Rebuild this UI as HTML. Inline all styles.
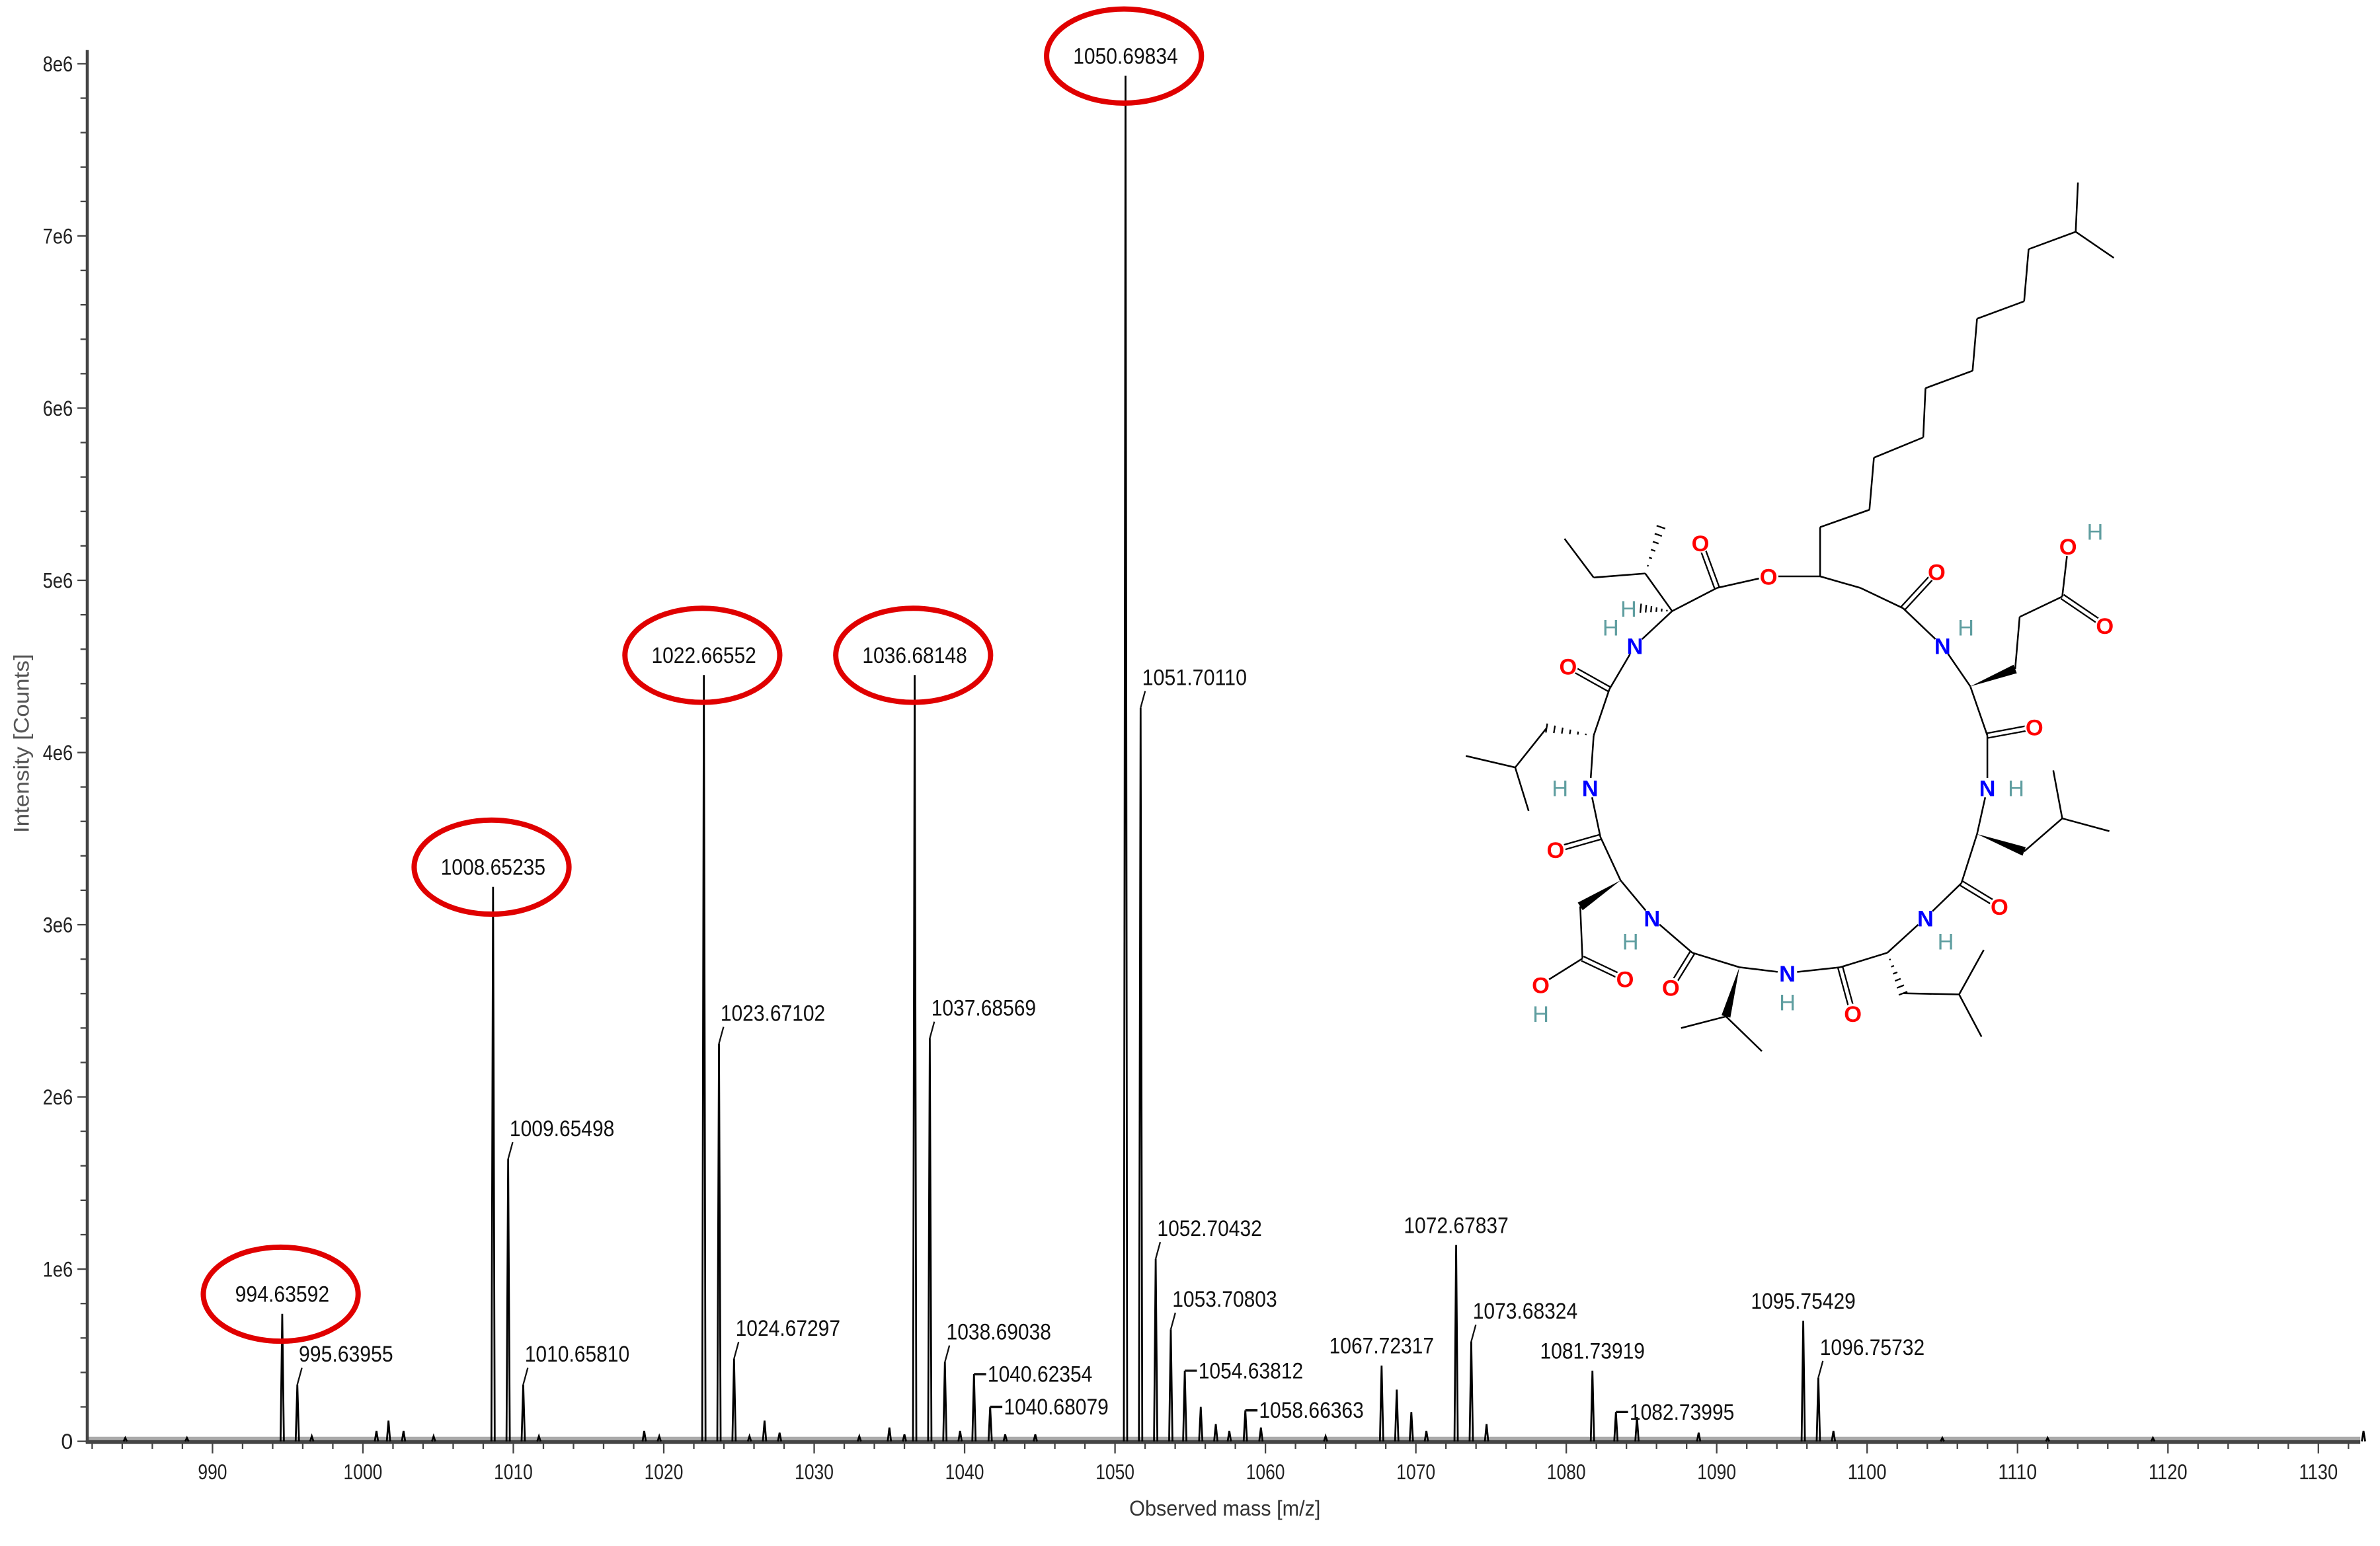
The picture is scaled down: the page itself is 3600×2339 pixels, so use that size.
<!DOCTYPE html>
<html><head><meta charset="utf-8"><style>
html,body{margin:0;padding:0;background:#fff;}
svg{display:block;}
text{font-family:"Liberation Sans Narrow","Liberation Sans",sans-serif;}
</style></head><body>
<svg id="chart" width="3600" height="2339" viewBox="0 0 1568 1019" preserveAspectRatio="none" xmlns="http://www.w3.org/2000/svg">
<g id="axes"></g>
<g id="peaks"></g>
<g id="labels"></g>
<g id="circles"></g>
<g id="mol"></g>
<text x="0" y="0" transform="translate(19,490) rotate(-90)" text-anchor="middle" font-size="14" fill="#555" textLength="118" lengthAdjust="spacingAndGlyphs">Intensity [Counts]</text>
<text x="807" y="999" text-anchor="middle" font-size="14" fill="#333" textLength="126" lengthAdjust="spacingAndGlyphs">Observed mass [m/z]</text>
</svg>
<script>
// ---- chart data ----
const peakMz = [984.2,988.3,994.636,995.640,996.6,1000.9,1001.7,1002.7,1004.7,1008.652,1009.655,1010.658,1011.7,1018.7,1019.7,1022.666,1023.671,1024.673,1025.7,1026.7,1027.7,1033.0,1035.0,1036.0,1036.681,1037.686,1038.690,1039.7,1040.624,1041.7,1042.7,1044.7,1050.698,1051.701,1052.704,1053.708,1054.638,1055.7,1056.7,1057.6,1058.664,1059.7,1064.0,1067.723,1068.73,1069.7,1070.7,1072.678,1073.683,1074.7,1081.739,1083.3,1084.7,1088.8,1095.754,1096.757,1097.76,1105.0,1112.0,1119.0,1133.0];
const peakInt = [0.02,0.02,0.74,0.33,0.03,0.06,0.12,0.06,0.03,3.22,1.64,0.33,0.03,0.06,0.03,4.45,2.31,0.48,0.03,0.12,0.05,0.03,0.08,0.04,4.45,2.34,0.46,0.06,0.39,0.2,0.04,0.04,7.93,4.26,1.06,0.65,0.41,0.2,0.1,0.06,0.18,0.08,0.03,0.44,0.30,0.17,0.06,1.14,0.58,0.1,0.41,0.17,0.14,0.05,0.70,0.37,0.06,0.02,0.02,0.02,0.06];
const labelMz = [994.636,995.640,1008.652,1009.655,1010.658,1022.666,1023.671,1024.673,1036.681,1037.686,1038.690,1040.624,1041.7,1050.698,1051.701,1052.704,1053.708,1054.638,1058.664,1067.723,1072.678,1073.683,1081.739,1083.3,1095.754,1096.757];
const labelText = ["994.63592","995.63955","1008.65235","1009.65498","1010.65810","1022.66552","1023.67102","1024.67297","1036.68148","1037.68569","1038.69038","1040.62354","1040.68079","1050.69834","1051.70110","1052.70432","1053.70803","1054.63812","1058.66363","1067.72317","1072.67837","1073.68324","1081.73919","1082.73995","1095.75429","1096.75732"];
const circledMz = [994.636,1008.652,1022.666,1036.681,1050.698];
const xTicks = [990,1000,1010,1020,1030,1040,1050,1060,1070,1080,1090,1100,1110,1120,1130];
const yTicks = [0,1,2,3,4,5,6,7,8];
const yTickLabels = ["0","1e6","2e6","3e6","4e6","5e6","6e6","7e6","8e6"];
// label layout style: 'c' centered above peak, 's' slanted leader, 'h' horizontal leader
const labelStyle = ['c','s','c','s','s','c','s','s','c','s','s','h','h','c','s','s','s','h','h','c','c','s','c','h','c','s'];

const NS="http://www.w3.org/2000/svg";
const X0=57.5, X1=1555, Y0=950;
function xs(m){return 140+(m-990)*9.91;}
function ys(v){return Y0-v*(950-42)/8;}
function el(tag,attrs,parent){const e=document.createElementNS(NS,tag);for(const k in attrs)e.setAttribute(k,attrs[k]);parent.appendChild(e);return e;}
function fit(t,w){t.setAttribute('textLength',w);t.setAttribute('lengthAdjust','spacingAndGlyphs');}

// axes
const ax=document.getElementById('axes');
let e=el('rect',{x:X0,y:947,width:X1-X0,height:3,fill:'#aaa'},ax);

e=el('line',{x1:X0,y1:33,x2:X0,y2:951,stroke:'#444','stroke-width':2},ax);

e=el('line',{x1:X0-1,y1:950.5,x2:X1,y2:950.5,stroke:'#444','stroke-width':2.5},ax);

for(let m=982;m<=1133;m+=2){
  const major=(m%10===0);
  const t=el('line',{x1:xs(m),y1:951,x2:xs(m),y2:major?958:955,stroke:'#444','stroke-width':1},ax);
  
  
}
xTicks.forEach(v=>{const t=el('text',{x:xs(v),y:975,'text-anchor':'middle','font-size':14,fill:'#222'},ax);t.textContent=v;
  fit(t,String(v).length*6.4);
  
  });
for(let v=0;v<=8.01;v+=0.2){
  const major=Math.abs(v-Math.round(v))<0.01;
  const t=el('line',{x1:major?51:53,y1:ys(v),x2:X0,y2:ys(v),stroke:'#444','stroke-width':1},ax);
  
  
}
yTicks.forEach((v,i)=>{const t=el('text',{x:48,y:ys(v)+5,'text-anchor':'end','font-size':14,fill:'#222'},ax);t.textContent=yTickLabels[i];
  if(yTickLabels[i].length>1)fit(t,yTickLabels[i].length*6.6);
  
  });

// peaks
const pk=document.getElementById('peaks');
peakMz.forEach((m,i)=>{
  const x=xs(m),y=ys(peakInt[i]);
  const p=el('path',{d:`M${x-1.1},${Y0} L${x},${y} L${x+1.1},${Y0}`,fill:'none',stroke:'#000','stroke-width':1.2},pk);
  
  
});

// labels
const lb=document.getElementById('labels');
function intAt(m){let best=0,bd=1e9;peakMz.forEach((p,i)=>{const d=Math.abs(p-m);if(d<bd){bd=d;best=i;}});return peakInt[best];}
labelMz.forEach((m,i)=>{
  const x=xs(m),y=ys(intAt(m)),s=labelStyle[i];
  let t;
  if(s==='c'){
    t=el('text',{x:x,y:y-8,'text-anchor':'middle','font-size':15,fill:'#111'},lb);
  }else if(s==='s'){
    const ln=el('line',{x1:x,y1:y,x2:x+3,y2:y-11,stroke:'#111','stroke-width':1},lb);
    
    
    t=el('text',{x:x+1,y:y-15,'font-size':15,fill:'#111'},lb);
  }else{
    const ln=el('line',{x1:x,y1:y,x2:x+8,y2:y,stroke:'#111','stroke-width':1.5},lb);
    
    
    t=el('text',{x:x+9,y:y+5,'font-size':15,fill:'#111'},lb);
  }
  t.textContent=labelText[i];
  fit(t,labelText[i].length*6.9);
  
  
});

// circles
const cg=document.getElementById('circles');
circledMz.forEach(m=>{
  const x=xs(m)-1,y=ys(intAt(m))-13;
  const c=el('ellipse',{cx:x,cy:y,rx:51,ry:31,fill:'none',stroke:'#e00000','stroke-width':3.5},cg);
  
  
});

// molecule (drawing coords mapped to chart space)
const mg=document.getElementById('mol');
function M(x,y){return [949.5+x/3.385,108.9+y/2.62];}
const bonds=[
[[845,710],[845,625]],[[845,625],[955,595]],[[955,595],[965,505]],[[965,505],[1075,470]],[[1075,470],[1080,385]],[[1080,385],[1185,355]],[[1185,355],[1195,265]],[[1195,265],[1300,235]],[[1300,235],[1310,145]],[[1310,145],[1415,115]],[[1415,115],[1420,30]],[[1415,115],[1500,160]],
[[845,710],[730,710]],[[730,710],[615,730]],[[615,730],[515,770]],[[515,770],[455,705]],[[455,705],[340,712]],[[340,712],[275,645]],
[[515,770],[432,830]],[[432,830],[375,905]],[[375,905],[340,985]],[[340,985],[332,1075]],[[332,1075],[355,1160]],[[355,1160],[400,1235]],
[[310,1280],[315,1370]],[[315,1370],[222,1415]],[[400,1235],[470,1300]],[[470,1300],[560,1360]],[[560,1360],[665,1385]],
[[635,1470],[535,1490]],[[635,1470],[715,1530]],[[665,1385],[772,1395]],[[772,1395],[890,1385]],[[890,1385],[995,1360]],
[[1030,1430],[1155,1432]],[[1155,1432],[1210,1355]],[[1155,1432],[1205,1505]],[[995,1360],[1080,1300]],[[1080,1300],[1160,1240]],[[1160,1240],[1195,1155]],
[[1300,1185],[1385,1128]],[[1385,1128],[1365,1045]],[[1385,1128],[1490,1150]],[[1195,1155],[1218,1075]],[[1218,1075],[1218,985]],[[1218,985],[1180,900]],
[[1280,870],[1290,780]],[[1290,780],[1385,745]],[[1385,745],[1398,658]],[[1180,900],[1118,830]],[[1118,830],[1030,765]],[[1030,765],[935,730]],[[935,730],[845,710]],
[[235,972],[165,1040]],[[165,1040],[55,1020]],[[165,1040],[195,1115]]
];
const doubles=[[[615,730],[578,652]],[[375,905],[283,865]],[[355,1160],[255,1182]],[[315,1370],[410,1405]],[[560,1360],[512,1420]],[[890,1385],[918,1465]],[[1160,1240],[1245,1280]],[[1218,985],[1323,970]],[[1385,745],[1480,795]],[[1030,765],[1105,702]]];
const wedges=[[[400,1235],[310,1280]],[[665,1385],[635,1470]],[[1195,1155],[1300,1185]],[[1180,900],[1280,870]]];
const hashes=[[[455,705],[490,625]],[[340,985],[235,972]],[[995,1360],[1030,1430]],[[515,770],[445,765]]];
bonds.forEach(b=>{const a=M(...b[0]),c=M(...b[1]);const l=el('line',{x1:a[0],y1:a[1],x2:c[0],y2:c[1],stroke:'#000','stroke-width':1.1},mg);
  
  });
doubles.forEach(b=>{const a=M(...b[0]),c=M(...b[1]);const dx=c[0]-a[0],dy=c[1]-a[1],L=Math.hypot(dx,dy),nx=-dy/L*1.6,ny=dx/L*1.6;
  [[nx,ny],[-nx,-ny]].forEach(o=>{const l=el('line',{x1:a[0]+o[0],y1:a[1]+o[1],x2:c[0]+o[0],y2:c[1]+o[1],stroke:'#000','stroke-width':1},mg);
  
  });});
wedges.forEach(b=>{const a=M(...b[0]),c=M(...b[1]);const dx=c[0]-a[0],dy=c[1]-a[1],L=Math.hypot(dx,dy),nx=-dy/L*3,ny=dx/L*3;
  const p=el('polygon',{points:`${a[0]},${a[1]} ${c[0]+nx},${c[1]+ny} ${c[0]-nx},${c[1]-ny}`,fill:'#000'},mg);
  
  });
hashes.forEach(b=>{const a=M(...b[0]),c=M(...b[1]);const dx=c[0]-a[0],dy=c[1]-a[1],L=Math.hypot(dx,dy);
  for(let k=1;k<=6;k++){const f=k/6,w=3*f,px=a[0]+dx*f,py=a[1]+dy*f,nx=-dy/L*w,ny=dx/L*w;
    const l=el('line',{x1:px+nx,y1:py+ny,x2:px-nx,y2:py-ny,stroke:'#000','stroke-width':1},mg);
    
    }});
const atoms=[
['O',730,710,'#f00'],['O',578,652,'#f00'],['O',283,865,'#f00'],['O',255,1182,'#f00'],['O',410,1405,'#f00'],['O',222,1415,'#f00'],['O',512,1420,'#f00'],['O',918,1465,'#f00'],['O',1245,1280,'#f00'],['O',1323,970,'#f00'],['O',1480,795,'#f00'],['O',1398,658,'#f00'],['O',1105,702,'#f00'],
['N',432,830,'#00f'],['N',332,1075,'#00f'],['N',470,1300,'#00f'],['N',772,1395,'#00f'],['N',1080,1300,'#00f'],['N',1218,1075,'#00f'],['N',1118,830,'#00f'],
['H',378,798,'#5f9ea0'],['H',265,1075,'#5f9ea0'],['H',422,1340,'#5f9ea0'],['H',772,1445,'#5f9ea0'],['H',1125,1340,'#5f9ea0'],['H',1282,1075,'#5f9ea0'],['H',1170,798,'#5f9ea0'],['H',1458,632,'#5f9ea0'],['H',222,1465,'#5f9ea0'],['H',418,765,'#5f9ea0']
];
atoms.forEach(a=>{const p=M(a[1],a[2]);
  const c=el('circle',{cx:p[0],cy:p[1],r:6.5,fill:'#fff'},mg);
  
  
  const t=el('text',{x:p[0],y:p[1]+5.5,'text-anchor':'middle','font-size':15,'font-weight':a[0]==='H'?'normal':'bold',fill:a[3],'font-family':'"Liberation Sans",sans-serif'},mg);
  t.textContent=a[0];
  
  });
</script>
</body></html>
